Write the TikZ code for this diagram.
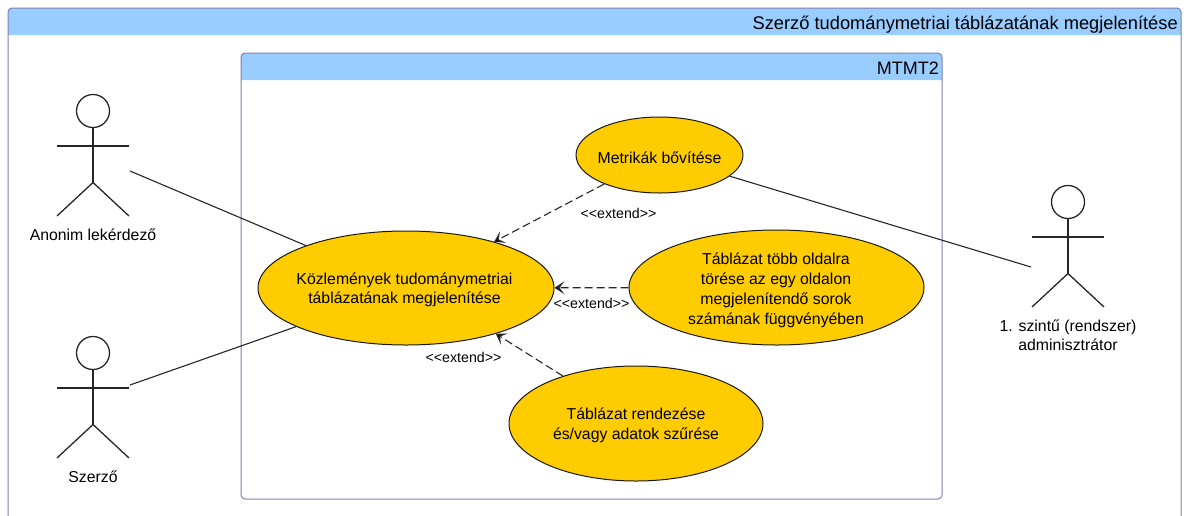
\documentclass[tikz,border=0pt]{standalone}
\usepackage{fontspec}
\setmainfont{Liberation Sans}
\usetikzlibrary{arrows.meta,shapes.geometric}
\definecolor{hdr}{HTML}{99CCFF}
\definecolor{frm}{HTML}{8080B0}
\definecolor{uc}{HTML}{FFCC00}
\tikzset{
  usecase/.style={draw=black!90,fill=uc,ellipse,inner xsep=-60pt,inner ysep=-10pt,line width=1pt},
  uctext/.style={inner sep=0pt,align=center,font=\fontsize{15.8}{#1}\selectfont},
  uctext/.default=19.5,
  lbl/.style={inner sep=0pt,align=center,font=\fontsize{15.8}{19}\selectfont},
  small/.style={inner sep=0pt,font=\fontsize{14.2}{16}\selectfont},
  assoc/.style={draw=black!85,line width=1.1pt},
  ext/.style={draw=black!85,line width=1.1pt,dash pattern=on 8pt off 4pt,-{Stealth[length=10pt,width=13pt,inset=5pt,fill=black,sep=0pt]}},
  limb/.style={line width=1.3pt,draw=black!85},
}
\newcommand{\actor}[3]{% name, cx, head cy
  \begin{scope}[shift={(#2,#3)}]
    \draw[limb] (0,0) circle (16.5);
    \draw[limb] (0,16.5) -- (0,71.5);
    \draw[limb] (-36,35) -- (36,35);
    \draw[limb] (-36,105) -- (0,71.5) -- (36,105);
  \end{scope}}
\begin{document}
\begin{tikzpicture}[x=1pt,y=-1pt]
\useasboundingbox (0,0) rectangle (1186,515);
% outer frame
\fill[hdr] (8,35) [rounded corners=4pt] -- (8,8) -- (1181,8) [sharp corners] -- (1181,35) -- cycle;
\draw[frm,line width=1pt,rounded corners=4pt] (8,525) -- (8,8) -- (1181,8) -- (1181,525);
\node[anchor=east,inner sep=0pt,font=\fontsize{18.3}{20}\selectfont] (outerT) at (1178,25) {Szerző tudománymetriai táblázatának megjelenítése};
% inner frame
\fill[hdr] (241,80) [rounded corners=4pt] -- (241,53) -- (942,53) [sharp corners] -- (942,80) -- cycle;
\draw[frm,line width=1pt,rounded corners=4pt] (241,53) rectangle (942,499);
\node[anchor=east,inner sep=0pt,font=\fontsize{18}{20}\selectfont] (innerT) at (939,68) {MTMT2};
% actors
\actor{a}{93}{111}
\actor{s}{93}{353}
\actor{r}{1068}{202}
\coordinate (aA) at (130,171);
\coordinate (aS) at (130,385);
\coordinate (aR) at (1031,267);
\node[lbl] (la) at (93,235) {Anonim lekérdező};
\node[lbl] (ls) at (93,477) {Szerző};
\node[lbl] (lr) at (1068,335.5) {1. szintű (rendszer)\\adminisztrátor};
% use cases
\node[usecase,minimum width=296,minimum height=114] (main) at (406,288) {};
\node[usecase,minimum width=167,minimum height=76] (metr) at (659.5,155) {};
\node[usecase,minimum width=295,minimum height=115] (tobb) at (776.5,287.5) {};
\node[usecase,minimum width=254,minimum height=115] (rend) at (636,423.5) {};
\node[uctext] (mainT) at (404.5,290) {Közlemények tudománymetriai\\táblázatának megjelenítése};
\node[uctext] (metrT) at (659.5,157.5) {Metrikák bővítése};
\node[uctext=20] (tobbT) at (776,290) {Táblázat több oldalra\\törése az egy oldalon\\megjelenítendő sorok\\számának függvényében};
\node[uctext] (rendT) at (636,425.5) {Táblázat rendezése\\és/vagy adatok szűrése};
% connectors
\draw[assoc] (aA) -- (main);
\draw[assoc] (aS) -- (main);
\draw[assoc] (aR) -- (metr);
\draw[ext] (metr) -- (main);
\draw[ext] (tobb) -- (main);
\draw[ext] (rend.147.9) -- (main.-27.9);
\node[small] (e1) at (618.5,213) {{<}{<}extend{>}{>}};
\node[small] (e2) at (591.5,303) {{<}{<}extend{>}{>}};
\node[small] (e3) at (463.5,357) {{<}{<}extend{>}{>}};
\end{tikzpicture}
\end{document}
